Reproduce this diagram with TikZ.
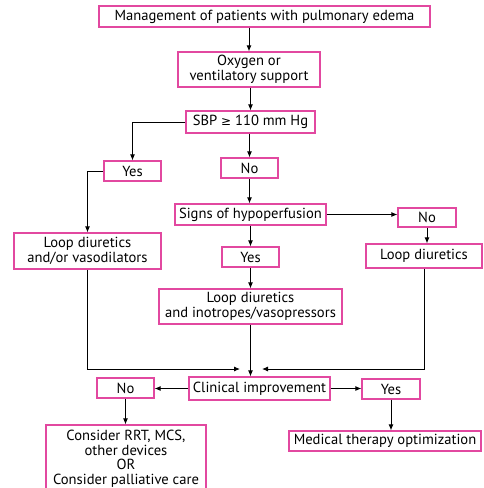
\documentclass[tikz,border=0pt]{standalone}
\usepackage{fontspec}
\setmainfont{PT Sans}
\newfontfamily\symf{DejaVu Sans}
\usetikzlibrary{arrows.meta}
\definecolor{pinkb}{RGB}{226,72,160}
\tikzset{
  box/.style={draw=pinkb, line width=1.2pt, fill=white, align=center, inner sep=1pt, font=\fontsize{14.6}{14.5}\selectfont},
  arr/.style={-{Latex[length=6pt,width=5pt]}, line width=0.9pt},
  ln/.style={line width=0.9pt}
}
\begin{document}
\begin{tikzpicture}[x=1pt,y=-1pt]
\useasboundingbox (0,0) rectangle (483,488);
\fill[white] (0,0) rectangle (483,488);
\node[box, minimum width=331pt, minimum height=21pt] (m) at (264.5,16.5) {Management of patients with pulmonary edema};
\node[box, minimum width=142pt, minimum height=35pt] (ox) at (249,69.5) {Oxygen or\\ventilatory support};
\node[box, minimum width=129pt, minimum height=22pt] (sbp) at (250.5,122) {SBP {\symf\fontsize{12}{14}\selectfont ≥} 110 mm Hg};
\node[box, minimum width=57pt, minimum height=20pt] (yes1) at (132.5,171) {Yes};
\node[box, minimum width=57pt, minimum height=20pt] (no1) at (249.5,168) {No};
\node[box, minimum width=151pt, minimum height=21pt] (sig) at (250.5,214.5) {Signs of hypoperfusion};
\node[box, minimum width=58pt, minimum height=19pt] (no2) at (427,217.5) {No};
\node[box, minimum width=147pt, minimum height=36pt] (lv) at (87.5,251) {Loop diuretics\\and/or vasodilators};
\node[box, minimum width=57pt, minimum height=20pt] (yes2) at (250.5,257) {Yes};
\node[box, minimum width=116pt, minimum height=24pt] (ld) at (424,256) {Loop diuretics};
\node[box, minimum width=183pt, minimum height=35pt] (li) at (250.5,306.5) {Loop diuretics\\and inotropes/vasopressors};
\node[box, minimum width=141pt, minimum height=23pt] (ci) at (259.5,388.5) {Clinical improvement};
\node[box, minimum width=57pt, minimum height=20pt] (no3) at (125.5,388) {No};
\node[box, minimum width=58pt, minimum height=20pt] (yes3) at (391,389) {Yes};
\node[box, minimum width=160pt, minimum height=68pt] (cons) at (126,459) {Consider RRT, MCS,\\other devices\\OR\\Consider palliative care};
\node[box, minimum width=192pt, minimum height=20pt] (med) at (385,441) {Medical therapy optimization};
\coordinate (jl) at (240,369);
\coordinate (jr) at (262,369);

\draw[arr] (ox.north |- m.south) -- (ox.north);
\draw[arr] (sbp.north |- ox.south) -- (sbp.north);
\draw[arr] (sbp.west) -| (yes1.north);
\draw[arr] (no1.north |- sbp.south) -- (no1.north);
\draw[arr] (no1.south) -- (no1.south |- sig.north);
\draw[arr] (sig.east) -- (sig.east -| no2.west);
\draw[arr] (yes1.west) -| (lv.north);
\draw[arr] (yes2.north |- sig.south) -- (yes2.north);
\draw[arr] (yes2.south) -- (li.north);
\draw[arr] (no2.south) -- (no2.south |- ld.north);
\draw[arr] (lv.south) |- (jl);
\draw[arr] (ld.south) |- (jr);
\draw[arr] (li.south) -- (li.south |- ci.north);
\draw[arr] (ci.west) -- (ci.west -| no3.east);
\draw[arr] (ci.east) -- (ci.east -| yes3.west);
\draw[arr] (no3.south) -- (no3.south |- cons.north);
\draw[arr] (yes3.south) -- (yes3.south |- med.north);
\end{tikzpicture}
\end{document}
